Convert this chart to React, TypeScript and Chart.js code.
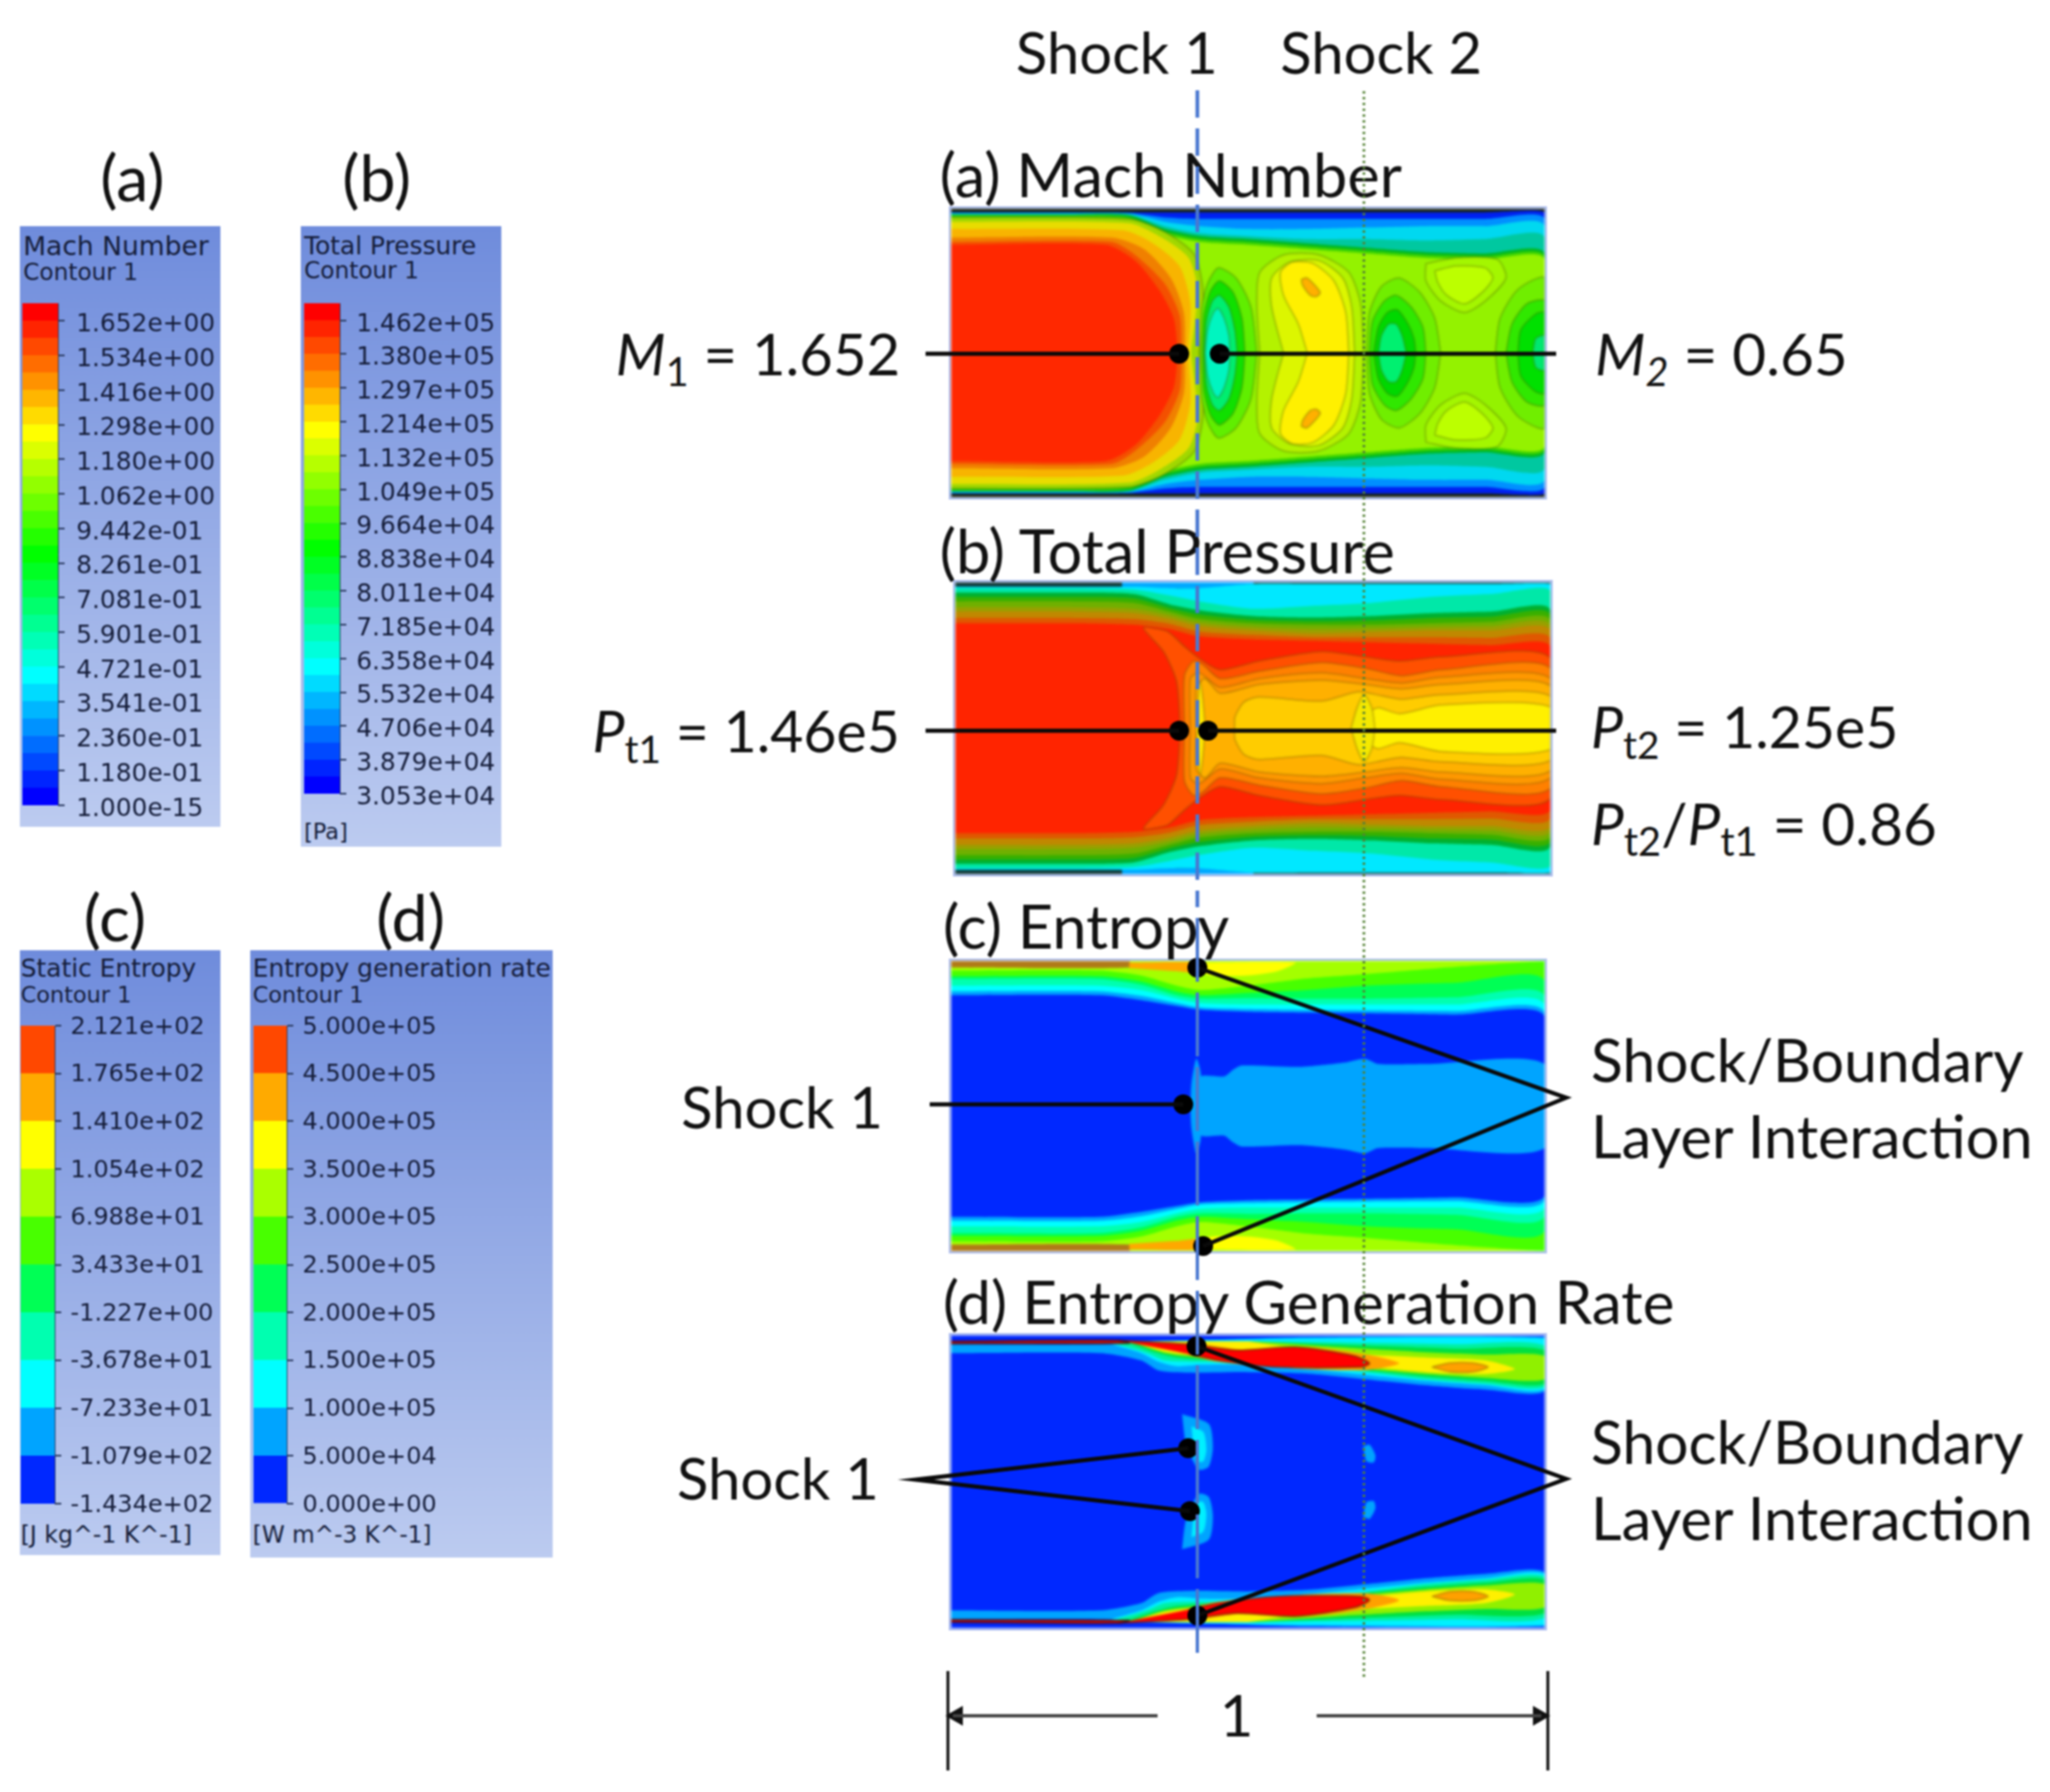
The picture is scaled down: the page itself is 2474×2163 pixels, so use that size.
import React, { useEffect, useRef } from "react";
import { Chart, registerables } from "chart.js";
Chart.register(...registerables);

type Pt = number[];
/* ---------- colour-bar values ---------- */
const machTicks = [1e-15, 0.118, 0.236, 0.3541, 0.4721, 0.5901, 0.7081, 0.8261, 0.9442, 1.062, 1.18, 1.298, 1.416, 1.534, 1.652];
const machLabels = ["1.000e-15", "1.180e-01", "2.360e-01", "3.541e-01", "4.721e-01", "5.901e-01", "7.081e-01", "8.261e-01", "9.442e-01", "1.062e+00", "1.180e+00", "1.298e+00", "1.416e+00", "1.534e+00", "1.652e+00"];
const machEdges = [0, .059, .118, .177, .236, .295, .354, .413, .472, .531, .59, .649, .708, .767, .826, .885, .944, 1.003, 1.062, 1.121, 1.18, 1.239, 1.298, 1.357, 1.416, 1.475, 1.534, 1.593, 1.652, 1.712];
const ptTicks = [30530, 38790, 47060, 55320, 63580, 71850, 80110, 88380, 96640, 104900, 113200, 121400, 129700, 138000, 146200];
const ptLabels = ["3.053e+04", "3.879e+04", "4.706e+04", "5.532e+04", "6.358e+04", "7.185e+04", "8.011e+04", "8.838e+04", "9.664e+04", "1.049e+05", "1.132e+05", "1.214e+05", "1.297e+05", "1.380e+05", "1.462e+05"];
const ptEdges = [30530, 34660, 38790, 42925, 47060, 51190, 55320, 59450, 63580, 67715, 71850, 75980, 80110, 84245, 88380, 92510, 96640, 100765, 104900, 109050, 113200, 117300, 121400, 125550, 129700, 133850, 138000, 142100, 146200, 150400];
const entropyTicks = [-143.4, -107.9, -72.33, -36.78, -1.227, 34.33, 69.88, 105.4, 141, 176.5, 212.1];
const entropyLabels = ["-1.434e+02", "-1.079e+02", "-7.233e+01", "-3.678e+01", "-1.227e+00", "3.433e+01", "6.988e+01", "1.054e+02", "1.410e+02", "1.765e+02", "2.121e+02"];
const genTicks = [0, 50000, 100000, 150000, 200000, 250000, 300000, 350000, 400000, 450000, 500000];
const genLabels = ["0.000e+00", "5.000e+04", "1.000e+05", "1.500e+05", "2.000e+05", "2.500e+05", "3.000e+05", "3.500e+05", "4.000e+05", "4.500e+05", "5.000e+05"];
const tenBandColors = ["#0028ff", "#00a4ff", "#00ffff", "#00ffb0", "#00ff55", "#48ff00", "#aaff00", "#ffff00", "#ffaa00", "#ff4800"];
const rainbow = (i: number, n: number) => `hsl(${240 - (240 * i) / (n - 1)},100%,50%)`;

/* ---------- duct field contours: x = duct length 0..1, y = wall 0 .. centre .5 ---------- */
const machStations = [0, .2, .3, .36, .42, .5, .6, .7, .8, .9, 1];
const machBlue = [.012, .012, .012, .012, .012, .012, .012, .012, .012, .012, .012];
const machSky = [.014, .014, .015, .03, .035, .035, .035, .035, .035, .035, .035];
const machCyan = [.016, .016, .018, .045, .06, .07, .07, .065, .06, .06, .06];
const machTeal = [.018, .018, .02, .06, .085, .095, .105, .105, .11, .105, .10];
const machGreen = [.02, .02, .022, .07, .095, .105, .12, .135, .15, .155, .155];
const machLime = [.024, .024, .03, .08, .105, .115, .13, .145, .16, .165, .165];
const machCore = [.03, .03, .04, .09, .115, .125, .14, .155, .17, .175, .175];
const noseLime = [[0, .03], [.3, .035], [.36, .08], [.41, .16], [.425, .3], [.418, .5]];
const noseYellow = [[0, .045], [.3, .05], [.355, .10], [.40, .17], [.415, .28], [.404, .5]];
const noseGold = [[0, .07], [.29, .075], [.34, .12], [.385, .2], [.403, .33], [.399, .5]];
const noseOrange = [[0, .10], [.27, .10], [.325, .14], [.37, .24], [.392, .36], [.394, .5]];
const noseDeep = [[0, .115], [.27, .115], [.31, .16], [.36, .26], [.385, .37], [.388, .5]];
const noseRed = [[0, .125], [.26, .125], [.31, .18], [.35, .28], [.375, .38], [.382, .5]];
const crestA = [[.52, .5], [.515, .33], [.52, .22], [.56, .16], [.62, .16], [.67, .22], [.69, .33], [.695, .5]];
const crestB = [[.56, .5], [.54, .34], [.54, .24], [.57, .185], [.62, .18], [.66, .24], [.675, .34], [.68, .5]];
const crestC = [[.60, .5], [.585, .40], [.56, .30], [.555, .22], [.575, .185], [.61, .19], [.645, .25], [.665, .36], [.67, .5]];
const crestSpot = [[.59, .245], [.60, .24], [.622, .29], [.615, .305], [.605, .30], [.592, .265], [.59, .245]];
const dipA1 = [[.42, .5], [.422, .35], [.432, .26], [.45, .205], [.48, .24], [.505, .34], [.515, .5]];
const dipA2 = [[.424, .5], [.426, .37], [.437, .285], [.452, .25], [.475, .29], [.49, .38], [.495, .5]];
const dipA3 = [[.426, .5], [.43, .39], [.44, .32], [.452, .30], [.468, .34], [.478, .42], [.482, .5]];
const dipA4 = [[.428, .5], [.432, .42], [.442, .36], [.45, .345], [.46, .38], [.468, .44], [.47, .5]];
const dipB1 = [[.70, .5], [.705, .36], [.725, .27], [.755, .24], [.79, .29], [.815, .38], [.825, .5]];
const dipB2 = [[.705, .5], [.71, .39], [.73, .32], [.75, .30], [.775, .34], [.795, .41], [.80, .5]];
const dipB3 = [[.712, .5], [.72, .41], [.735, .36], [.752, .35], [.77, .40], [.78, .45], [.783, .5]];
const dipB4 = [[.72, .5], [.725, .44], [.737, .40], [.75, .40], [.76, .44], [.767, .5]];
const dipC1 = [[.917, .5], [.925, .38], [.955, .28], [1, .24], [1, .5]];
const dipC2 = [[.935, .5], [.945, .40], [.97, .33], [1, .32], [1, .5]];
const dipC3 = [[.955, .5], [.96, .42], [.985, .365], [1, .36], [1, .5]];
const dipC4 = [[.98, .5], [.985, .45], [1, .44], [1, .5]];
const liftOuter = [[.80, .19], [.85, .17], [.92, .175], [.935, .24], [.90, .32], [.865, .36], [.825, .32], [.80, .25], [.80, .19]];
const liftInner = [[.815, .215], [.85, .198], [.9, .205], [.913, .24], [.895, .29], [.865, .33], [.835, .30], [.82, .255], [.815, .215]];

const ptStations = [0, .2, .3, .36, .41, .5, .6, .7, .8, .9, 1];
const ptSkyWedge = [[.28, 0], [.5, 0], [.5, .02], [.28, .02]];
const ptCyan = [.015, .015, .015, .02, .02, .005, .005, .005, .005, .005, .005];
const ptSpring = [.02, .02, .025, .045, .065, .09, .08, .07, .05, .04, .03];
const ptGreen = [.035, .035, .04, .075, .095, .115, .12, .115, .105, .10, .095];
const ptMoss = [.05, .05, .055, .088, .11, .128, .133, .13, .122, .118, .112];
const ptOlive = [.065, .065, .07, .10, .125, .14, .145, .145, .14, .135, .13];
const ptKhaki = [.085, .085, .09, .112, .138, .153, .16, .158, .153, .15, .148];
const ptBrown = [.10, .10, .105, .125, .15, .165, .175, .17, .165, .165, .165];
const ptRust = [.122, .122, .126, .142, .168, .18, .188, .188, .188, .19, .192];
const ptRedEdge = [.14, .14, .145, .16, .185, .195, .2, .205, .21, .215, .22];
const ptDeep = [[.378, .5], [.372, .341], [.35, .237], [.316, .156], [.34, .16], [.358, .17], [.385, .22], [.413, .265], [.445, .30], [.51, .27], [.615, .237], [.69, .256], [.747, .27], [.815, .256], [1, .26]];
const ptOrange = [[.385, .5], [.385, .32], [.40, .27], [.415, .28], [.445, .33], [.51, .305], [.615, .275], [.69, .295], [.75, .32], [.815, .30], [1, .295]];
const ptAmber = [[.395, .5], [.395, .33], [.41, .31], [.445, .36], [.51, .33], [.615, .31], [.69, .33], [.75, .345], [.815, .325], [1, .33]];
const ptAmber2 = [[.405, .5], [.405, .36], [.42, .33], [.445, .38], [.51, .35], [.615, .335], [.69, .35], [.75, .365], [.815, .35], [1, .355]];
const ptGold = [[.469, .5], [.47, .46], [.485, .41], [.51, .393], [.615, .407], [.677, .375], [.72, .39], [.75, .40], [.815, .385], [1, .39]];
const ptYellow = [[.70, .5], [.70, .44], [.712, .43], [.747, .45], [.816, .42], [1, .427]];
const ptLens = [[.665, .5], [.675, .43], [.687, .385], [.70, .43], [.705, .5]];
const ptShockSliver = [[.405, .5], [.408, .40], [.412, .34], [.416, .40], [.42, .5]];

const sStations = [0, .25, .32, .38, .42, .5, .6, .7, .85, 1];
const sGreen = [.033, .033, .05, .085, .10, .085, .06, .045, .02, 0];
const sSpring = [.052, .052, .07, .105, .118, .11, .10, .085, .075, .07];
const sTeal = [.062, .062, .082, .118, .13, .128, .13, .13, .125, .12];
const sCyan = [.085, .085, .10, .13, .145, .15, .15, .15, .15, .15];
const sSky = [.104, .104, .12, .145, .16, .165, .168, .17, .172, .175];
const sBlue = [.118, .118, .135, .155, .168, .175, .178, .18, .185, .19];
const sWallBrown = [[0, 0], [.3, 0], [.3, .022], [0, .022]];
const sWallOrange = [[.30, .005], [.42, .005], [.42, .04], [.38, .035], [.3, .025]];
const sWallYellow = [[.42, .005], [.58, .005], [.55, .035], [.50, .05], [.44, .05], [.42, .04]];
const sCore = [[.42, .5], [.42, .40], [.46, .398], [.475, .375], [.49, .36], [.587, .365], [.663, .35], [.697, .337], [.72, .355], [.8, .355], [1, .355]];
const sLens = [[.403, .5], [.405, .42], [.413, .337], [.42, .38], [.425, .5]];

const gSky = [[0, .03], [.25, .03], [.6, .005], [1, .005], [1, .19], [.9, .185], [.8, .17], [.7, .15], [.6, .13], [.5, .125], [.4, .127], [.35, .12], [.32, .085], [.25, .06], [0, .06]];
const gCyan = [[.27, .03], [.32, .06], [.35, .09], [.38, .105], [.42, .10], [.5, .10], [.6, .115], [.7, .135], [.8, .155], [.9, .17], [1, .183], [1, .01], [.6, .01], [.3, .02]];
const gTeal = [[.28, .03], [.33, .06], [.36, .085], [.42, .09], [.52, .09], [.6, .105], [.7, .125], [.8, .15], [.9, .165], [1, .175], [1, .035], [.85, .03], [.7, .025], [.5, .02], [.3, .02]];
const gGreen = [[.29, .02], [.34, .055], [.38, .075], [.45, .085], [.55, .095], [.7, .12], [.8, .14], [.9, .155], [1, .165], [1, .05], [.85, .045], [.7, .035], [.5, .02]];
const gLime = [[.30, .02], [.36, .06], [.42, .075], [.5, .085], [.6, .10], [.7, .115], [.8, .132], [.9, .145], [1, .15], [1, .07], [.9, .065], [.78, .055], [.65, .04], [.5, .02]];
const gYellow = [[.30, .02], [.36, .055], [.42, .07], [.5, .08], [.6, .095], [.7, .108], [.8, .125], [.9, .132], [.95, .115], [.9, .085], [.8, .075], [.7, .065], [.6, .05], [.5, .02]];
const gOrange = [[.30, .02], [.42, .03], [.5, .05], [.6, .04], [.7, .065], [.755, .095], [.70, .118], [.6, .115], [.45, .09], [.38, .055]];
const gOrangeSpot = [[.81, .108], [.84, .094], [.88, .094], [.905, .108], [.88, .124], [.84, .124], [.81, .108]];
const gRed = [[.28, .016], [.40, .03], [.48, .05], [.58, .04], [.68, .07], [.705, .095], [.69, .108], [.55, .108], [.45, .085], [.40, .062]];
const gWallRed = [[0, .02], [.28, .016], [.3, .026], [0, .028]];
const gShockSky = [[.389, .269], [.434, .302], [.441, .382], [.434, .448], [.417, .458], [.396, .373], [.389, .269]];
const gShockCyan = [[.405, .31], [.425, .33], [.43, .39], [.425, .43], [.415, .43], [.408, .37], [.405, .31]];
const gShock2Sky = [[.694, .38], [.705, .373], [.715, .41], [.712, .434], [.70, .43], [.694, .38]];

/* ---------- figure annotations, in figure units ---------- */
const shock1Upper = [[1445, 109], [1445, 1095]];
const shock1Lower = [[1445, 1108], [1445, 2005]];
const shock2Line = [[1646, 110], [1646, 2028]];
const machLeader = [[[1117, 427], [1423, 427]], [[1472, 427], [1878, 427]]];
const ptLeader = [[[1117, 882], [1423, 882]], [[1458, 882], [1878, 882]]];
const entropyLeader = [[[1122, 1333], [1428, 1333]], [[1445, 1168], [1890, 1325], [1452, 1504]]];
const genLeader = [[[1434, 1748], [1105, 1786], [1436, 1824]], [[1444, 1625], [1890, 1785], [1445, 1950]]];
const leaderDots = [[1423, 427], [1472, 427], [1423, 882], [1458, 882], [1428, 1333], [1445, 1168], [1452, 1504], [1434, 1748], [1436, 1824], [1444, 1625], [1445, 1950]];
const dimBars = [[[1144, 2017], [1144, 2137]], [[1868, 2017], [1868, 2137]]];
const dimArrows = [[[1150, 2071], [1397, 2071]], [[1589, 2071], [1860, 2071]]];
const dimHeads = [{ at: [1155, 2071], turn: 270 }, { at: [1857, 2071], turn: 90 }];

/* ---------- helpers ---------- */
const mirror = (half: Pt[]) => half.concat(half.slice().reverse().map(([x, y]) => [x, 1 - y]));
const reflect = (pts: Pt[]) => pts.map(([x, y]) => [x, 1 - y]);
const wall = (u: number[], v: number[]) => mirror(u.map((x, i) => [x, v[i]]));

type Layer = [Pt[], string, string?];
const machLine = "rgba(70,85,0,.42)";
const ptLine = "rgba(110,85,0,.45)";
const machLayers: Layer[] = [
  [wall(machStations, machBlue), "#0020f0"],
  [wall(machStations, machSky), "#0090ff"],
  [wall(machStations, machCyan), "#00d8f0"],
  [wall(machStations, machTeal), "#00c8a0"],
  [wall(machStations, machGreen), "#00b820"],
  [wall(machStations, machLime), "#40d400"],
  [wall(machStations, machCore), "#94f200"],
  [liftOuter, "#a4f600", machLine], [reflect(liftOuter), "#a4f600", machLine],
  [liftInner, "#bcff00", machLine], [reflect(liftInner), "#bcff00", machLine],
  [mirror(crestA), "#b4f200", machLine],
  [mirror(crestB), "#dcf600", machLine],
  [mirror(crestC), "#fff000", machLine],
  [crestSpot, "#ffb000", machLine], [reflect(crestSpot), "#ffb000", machLine],
  [mirror(dipB1), "#70ee00", machLine], [mirror(dipB2), "#30e800", machLine], [mirror(dipB3), "#00d800", machLine], [mirror(dipB4), "#00f070", machLine],
  [mirror(dipC1), "#70ee00", machLine], [mirror(dipC2), "#30e800", machLine], [mirror(dipC3), "#00e000", machLine], [mirror(dipC4), "#00e870", machLine],
  [mirror(noseLime), "#a0d800", machLine],
  [mirror(dipA1), "#60ee00", machLine], [mirror(dipA2), "#10e000", machLine], [mirror(dipA3), "#00ee70", machLine], [mirror(dipA4), "#00f5c0", machLine],
  [mirror(noseYellow), "#e8dc00"],
  [mirror(noseGold), "#f8b400"],
  [mirror(noseOrange), "#f08000"],
  [mirror(noseDeep), "#f45000"],
  [mirror(noseRed), "#ff2800"],
];
const ptLayers: Layer[] = [
  [ptSkyWedge, "#00a8ff"], [reflect(ptSkyWedge), "#00a8ff"],
  [wall(ptStations, ptCyan), "#00e8ff"],
  [wall(ptStations, ptSpring), "#00e8a8"],
  [wall(ptStations, ptGreen), "#00b030"],
  [wall(ptStations, ptMoss), "#38b000"],
  [wall(ptStations, ptOlive), "#70b000"],
  [wall(ptStations, ptKhaki), "#98a000"],
  [wall(ptStations, ptBrown), "#c08800"],
  [wall(ptStations, ptRust), "#e05800"],
  [wall(ptStations, ptRedEdge), "#ff2400"],
  [mirror(ptDeep), "#ff5000", ptLine],
  [mirror(ptOrange), "#ff8000", ptLine],
  [mirror(ptAmber), "#ff9800", ptLine],
  [mirror(ptAmber2), "#ffb000", ptLine],
  [mirror(ptGold), "#ffcc00", ptLine],
  [mirror(ptYellow), "#fff000", ptLine],
  [mirror(ptLens), "#f4e800", ptLine],
  [mirror(ptShockSliver), "#ffe800", ptLine],
];
const entropyLayers: Layer[] = [
  [sWallBrown, "#b07a18"], [reflect(sWallBrown), "#b07a18"],
  [sWallOrange, "#ffa800"], [reflect(sWallOrange), "#ffa800"],
  [sWallYellow, "#ffff00"], [reflect(sWallYellow), "#ffff00"],
  [wall(sStations, sGreen), "#48ff00"],
  [wall(sStations, sSpring), "#00ff55"],
  [wall(sStations, sTeal), "#00ffb0"],
  [wall(sStations, sCyan), "#00ffff"],
  [wall(sStations, sSky), "#00a4ff"],
  [wall(sStations, sBlue), "#0028ff"],
  [mirror(sCore), "#00a4ff"],
  [mirror(sLens), "#00a4ff"],
];
const genLayers: Layer[] = [];
([[gSky, "#00a4ff"], [gCyan, "#00f0ff"], [gTeal, "#00f0a0"], [gGreen, "#00e040"], [gLime, "#90f000"], [gYellow, "#fff000"], [gOrange, "#ffa000"], [gOrangeSpot, "#ffa000", "rgba(130,90,0,.6)"], [gRed, "#ff0000", "rgba(90,30,0,.8)"], [gWallRed, "#e01000", "rgba(40,0,0,.8)"], [gShockSky, "#00a4ff"], [gShockCyan, "#00f0ff"], [gShock2Sky, "#00a4ff"]] as Layer[]).forEach(l => {
  genLayers.push(l, [reflect(l[0]), l[1], l[2]]);
});

const baseChart = (canvas: HTMLCanvasElement, cfg: any) => new Chart(canvas, cfg);
const common = { responsive: false, animation: false, events: [], plugins: { legend: { display: false }, tooltip: { enabled: false } } };

function fieldChart(canvas: HTMLCanvasElement, layers: Layer[]) {
  const n = layers.length;
  return baseChart(canvas, {
    type: "line",
    data: {
      datasets: layers.map(([pts, color, line], i) => ({
        data: pts.map(([x, y]) => ({ x, y })),
        fill: "shape", backgroundColor: color, borderColor: line || color, borderWidth: line ? 1.5 : 0,
        pointRadius: 0, tension: 0.25, order: n - i,
      })),
    },
    options: {
      ...common, layout: { padding: 0, autoPadding: false },
      scales: {
        x: { type: "linear", min: 0, max: 1, display: false },
        y: { type: "linear", min: 0, max: 1, reverse: true, display: false },
      },
    },
  });
}

function barChart(canvas: HTMLCanvasElement, edges: number[], colors: string[], ticks: number[], labels: string[], barW: number, font: number, pad: number, top: number, bottom: number, shift: number) {
  return baseChart(canvas, {
    type: "bar",
    data: {
      labels: [""],
      datasets: edges.slice(0, -1).map((lo, i) => ({ data: [[lo, edges[i + 1]]], backgroundColor: colors[i], borderWidth: 0, grouped: false, barPercentage: 1, categoryPercentage: 1 })),
    },
    options: {
      ...common, layout: { padding: { top, bottom, left: 0, right: 0 }, autoPadding: false },
      scales: {
        x: { display: false },
        y: {
          position: "right", min: edges[0], max: edges[edges.length - 1],
          afterFit: (a: any) => { a.width = canvas.width - barW; a.paddingTop = 0; a.paddingBottom = 0; },
          afterBuildTicks: (a: any) => { a.ticks = ticks.map(value => ({ value })); },
          grid: { drawOnChartArea: false, drawTicks: true, tickLength: 8, color: "#2a3a60", lineWidth: 2 },
          border: { display: true, color: "#2a3a60", width: 1 },
          ticks: { autoSkip: false, padding: pad, labelOffset: shift, color: "#141c38", font: { family: "DejaVu Sans", size: font }, callback: (_: any, i: number) => labels[i] },
        },
      },
    },
  });
}

function overlayChart(canvas: HTMLCanvasElement) {
  const line = (pts: Pt[], color: string, width: number, dash: number[] = []) => ({
    data: pts.map(([x, y]) => ({ x, y })), showLine: true, borderColor: color, borderWidth: width, borderDash: dash, pointRadius: 0, fill: false, tension: 0,
  });
  return baseChart(canvas, {
    type: "scatter",
    data: {
      datasets: [
        line(shock1Upper, "#4a78d0", 4.5, [33, 13]),
        line(shock1Lower, "#4a78d0", 4, [77, 13]),
        line(shock2Line, "#548235", 3, [3, 4]),
        ...[...machLeader, ...ptLeader, ...entropyLeader, ...genLeader].map(p => line(p, "#0a0a0a", 5)),
        ...dimBars.map(p => line(p, "#111", 3.5)),
        ...dimArrows.map(p => line(p, "#444", 4)),
        { data: leaderDots.map(([x, y]) => ({ x, y })), pointRadius: 12, backgroundColor: "#000", borderWidth: 0 },
        ...dimHeads.map(h => ({ data: [{ x: h.at[0], y: h.at[1] }], pointStyle: "triangle", rotation: h.turn, pointRadius: 14, backgroundColor: "#111", borderWidth: 0 })),
      ],
    },
    options: {
      ...common, layout: { padding: 0, autoPadding: false },
      scales: {
        x: { type: "linear", min: 0, max: 2474, display: false },
        y: { type: "linear", min: 0, max: 2163, reverse: true, display: false },
      },
    },
  });
}

const abs = (l: number, t: number, w: number, h: number): React.CSSProperties => ({ position: "absolute", left: l, top: t, width: w, height: h });
const sans = "Lato";
function T({ x, y, s = 70, children }: any) {
  return <div style={{ position: "absolute", left: x, top: y - 3, transform: "translateY(-50%)", fontFamily: sans, fontSize: s, color: "#111", whiteSpace: "nowrap", lineHeight: 1 }}>{children}</div>;
}
const Sub = ({ children, i }: any) => <sub style={{ fontSize: "0.68em", lineHeight: 0, fontStyle: i ? "italic" : "normal", verticalAlign: "-0.28em" }}>{children}</sub>;
function L({ x, y, s, children }: any) {
  return <div style={{ position: "absolute", left: x, top: y, transform: "translateY(-50%)", fontFamily: "DejaVu Sans", fontSize: s, color: "#141c38", whiteSpace: "nowrap", lineHeight: 1 }}>{children}</div>;
}
const boxBg = "linear-gradient(#6f8cdc,#bccbf0)";

export default function App() {
  const a = useRef<HTMLCanvasElement>(null), b = useRef<HTMLCanvasElement>(null), c = useRef<HTMLCanvasElement>(null), d = useRef<HTMLCanvasElement>(null);
  const ba = useRef<HTMLCanvasElement>(null), bb = useRef<HTMLCanvasElement>(null), bc = useRef<HTMLCanvasElement>(null), bd = useRef<HTMLCanvasElement>(null);
  const over = useRef<HTMLCanvasElement>(null);
  useEffect(() => {
    const charts = [
      fieldChart(a.current!, machLayers), fieldChart(b.current!, ptLayers), fieldChart(c.current!, entropyLayers), fieldChart(d.current!, genLayers),
      barChart(ba.current!, machEdges, machEdges.slice(0, -1).map((_, i) => rainbow(i, 29)), machTicks, machLabels, 43, 30, 14, 20, 30, 5),
      barChart(bb.current!, ptEdges, ptEdges.slice(0, -1).map((_, i) => rainbow(i, 29)), ptTicks, ptLabels, 43, 30, 12, 20, 30, 5),
      barChart(bc.current!, entropyTicks, tenBandColors, entropyTicks, entropyLabels, 41, 29, 11, 20, 30, 2),
      barChart(bd.current!, genTicks, tenBandColors, genTicks, genLabels, 40, 29, 11, 20, 30, 2),
      overlayChart(over.current!),
    ];
    return () => charts.forEach(ch => ch.destroy());
  }, []);
  const panel = (ref: any, l: number, t: number, w: number, h: number, bg: string) => (
    <div style={{ ...abs(l, t, w, h), boxShadow: "0 0 0 3px #b2c2f0" }}>
      <canvas ref={ref} width={w} height={h} style={{ display: "block", background: bg, filter: "blur(1.2px)" }} />
    </div>
  );
  const cbar = (ref: any, l: number, t: number, w: number, h: number) => <canvas ref={ref} width={w} height={h} style={{ position: "absolute", left: l, top: t }} />;
  return (
    <div style={{ ...abs(0, 0, 2474, 2163), background: "#fff", overflow: "hidden", filter: "blur(0.9px)" }}>
      {/* colour legends */}
      <div style={{ ...abs(24, 273, 242, 725), background: boxBg }} />
      <div style={{ ...abs(363, 273, 242, 749), background: boxBg }} />
      <div style={{ ...abs(24, 1147, 242, 730), background: boxBg }} />
      <div style={{ ...abs(302, 1147, 365, 733), background: boxBg }} />
      <L x={28} y={297} s={32}>Mach Number</L><L x={28} y={329} s={28}>Contour 1</L>
      <L x={367} y={297} s={30}>Total Pressure</L><L x={367} y={327} s={28}>Contour 1</L><L x={367} y={1003} s={27}>[Pa]</L>
      <L x={25} y={1169} s={30}>Static Entropy</L><L x={25} y={1200} s={27}>Contour 1</L><L x={25} y={1853} s={28.5}>[J kg^-1 K^-1]</L>
      <L x={305} y={1169} s={30}>Entropy generation rate</L><L x={305} y={1200} s={27}>Contour 1</L><L x={305} y={1853} s={28}>[W m^-3 K^-1]</L>
      {cbar(ba, 27, 346, 239, 656)}
      {cbar(bb, 367, 346, 238, 642)}
      {cbar(bc, 25, 1218, 241, 627)}
      {cbar(bd, 306, 1218, 250, 627)}
      {/* duct fields */}
      {panel(a, 1148, 252, 716, 348, "#1a2410")}
      {panel(b, 1153, 703, 718, 352, "#103a3a")}
      {panel(c, 1148, 1160, 716, 350, "#a4ff00")}
      {panel(d, 1148, 1612, 716, 353, "#0028ff")}
      {/* text */}
      <T x={121} y={216} s={78}>(a)</T><T x={413} y={216} s={78}>(b)</T><T x={101} y={1109} s={78}>(c)</T><T x={454} y={1109} s={78}>(d)</T>
      <T x={1226} y={65}>Shock 1</T><T x={1545} y={65}>Shock 2</T>
      <T x={1134} y={213} s={74}>(a) Mach Number</T>
      <T x={1134} y={667} s={74}>(b) Total Pressure</T>
      <T x={1138} y={1120} s={74}>(c) Entropy</T>
      <T x={1138} y={1573} s={72.5}>(d) Entropy Generation Rate</T>
      <T x={743} y={429}><i>M</i><Sub>1</Sub> = 1.652</T>
      <T x={1925} y={429} s={70.5}><i>M</i><Sub i>2</Sub> = 0.65</T>
      <T x={715} y={884} s={69}><i>P</i><Sub>t1</Sub> = 1.46e5</T>
      <T x={1920} y={879} s={69}><i>P</i><Sub>t2</Sub> = 1.25e5</T>
      <T x={1920} y={996} s={70.5}><i>P</i><Sub>t2</Sub>/<i>P</i><Sub>t1</Sub> = 0.86</T>
      <T x={822} y={1338}>Shock 1</T>
      <T x={1920} y={1281} s={71}>Shock/Boundary</T>
      <T x={1920} y={1373} s={72}>Layer Interaction</T>
      <T x={817} y={1786}>Shock 1</T>
      <T x={1920} y={1742} s={71}>Shock/Boundary</T>
      <T x={1920} y={1834} s={72}>Layer Interaction</T>
      <T x={1472} y={2072}>1</T>
      <canvas ref={over} width={2474} height={2163} style={{ position: "absolute", left: 0, top: 0 }} />
    </div>
  );
}
